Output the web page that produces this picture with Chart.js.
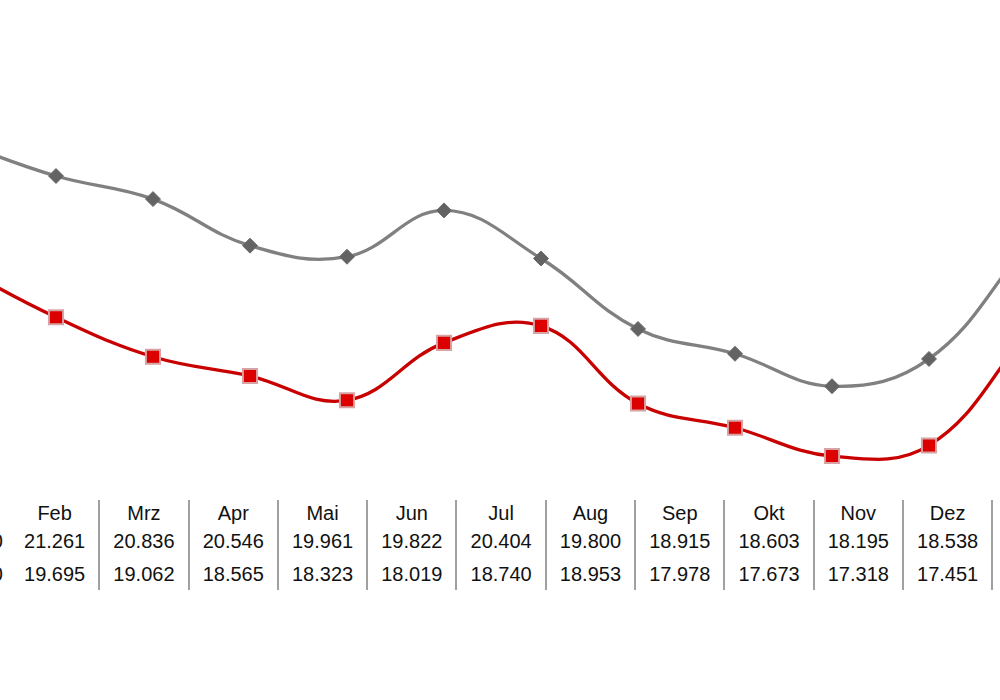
<!DOCTYPE html>
<html lang="de">
<head>
<meta charset="utf-8">
<title>Monatswerte</title>
<script src="https://cdn.jsdelivr.net/npm/chart.js@4.4.1/dist/chart.umd.min.js"></script>
<style>
    html, body {
        margin: 0;
        padding: 0;
        width: 1000px;
        height: 700px;
        overflow: hidden;
        background: #ffffff;
    }

    #chart {
        position: absolute;
        left: -61px;
        top: 0;
    }

    #table-box {
        position: absolute;
        left: 0;
        top: 0;
        font-family: "Liberation Sans", Arial, sans-serif;
        font-size: 20px;
        color: #111111;
    }

    .col {
        position: absolute;
        top: 500px;
        height: 90px;
        width: 89.3px;
        box-sizing: border-box;
        border-right: 2px solid #a0a0a0;
    }

    .label-col {
        position: absolute;
        top: 500px;
        height: 90px;
        width: 120px;
        left: -117px;
    }

    .cell {
        position: absolute;
        left: 0;
        right: 0;
        text-align: center;
        line-height: 20px;
        white-space: nowrap;
    }

    .label-col .cell {
        text-align: right;
    }
</style>
</head>
<body>
<canvas id="chart" width="1107" height="490"></canvas>
<div id="table-box"></div>

<script>
const months = ["Feb", "Mrz", "Apr", "Mai", "Jun", "Jul", "Aug", "Sep", "Okt", "Nov", "Dez"];
const rowLabels = ["2020", "2010"];
const upperValues = [21.261, 20.836, 20.546, 19.961, 19.822, 20.404, 19.800, 18.915, 18.603, 18.195, 18.538];
const lowerValues = [19.695, 19.062, 18.565, 18.323, 18.019, 18.740, 18.953, 17.978, 17.673, 17.318, 17.451];

// the lines run on past the right edge, the next month is only a guess from the slope
const nextMonth = "Jan";
const upperNext = 19.95;
const lowerNext = 18.83;

const rowTops = [3, 31, 64];


function makeCell(parent, text, top) {
    const cell = document.createElement("div");
    cell.className = "cell";
    cell.style.top = top + "px";
    cell.textContent = text;
    parent.appendChild(cell);
}


function buildTable() {
    const box = document.getElementById("table-box");

    const labelCol = document.createElement("div");
    labelCol.className = "label-col";
    makeCell(labelCol, rowLabels[0], rowTops[1]);
    makeCell(labelCol, rowLabels[1], rowTops[2]);
    box.appendChild(labelCol);

    for (let i = 0; i < months.length; i++) {
        const col = document.createElement("div");
        col.className = "col";
        col.style.left = (11 + i * 89.3) + "px";
        makeCell(col, months[i], rowTops[0]);
        makeCell(col, upperValues[i].toFixed(3), rowTops[1]);
        makeCell(col, lowerValues[i].toFixed(3), rowTops[2]);
        box.appendChild(col);
    }
}


function drawChart() {
    const context = document.getElementById("chart");

    new Chart(context, {
        type: "line",
        data: {
            labels: months.concat(nextMonth),
            datasets: [{
                label: rowLabels[1],
                data: lowerValues.concat(lowerNext),
                borderColor: "#c80000",
                borderWidth: 3.3,
                tension: 0.4,
                pointStyle: "rect",
                pointRadius: 10,
                pointHoverRadius: 10,
                pointBackgroundColor: "#dd0000",
                pointBorderColor: "#d6a4a4",
                pointBorderWidth: 2
            }, {
                label: rowLabels[0],
                data: upperValues.concat(upperNext),
                borderColor: "#808080",
                borderWidth: 3.3,
                tension: 0.4,
                pointStyle: "rectRot",
                pointRadius: 7.5,
                pointHoverRadius: 7.5,
                pointBackgroundColor: "#636363",
                pointBorderColor: "#6c6c6c",
                pointBorderWidth: 1
            }]
        },
        options: {
            responsive: false,
            animation: false,
            layout: {
                autoPadding: false,
                padding: { left: 20, right: 20, top: 3.75, bottom: 8.65 }
            },
            scales: {
                x: { display: false },
                y: { display: false, min: 17, max: 23 }
            },
            plugins: {
                legend: { display: false },
                tooltip: { enabled: false }
            }
        }
    });
}


buildTable();
drawChart();
</script>
</body>
</html>
